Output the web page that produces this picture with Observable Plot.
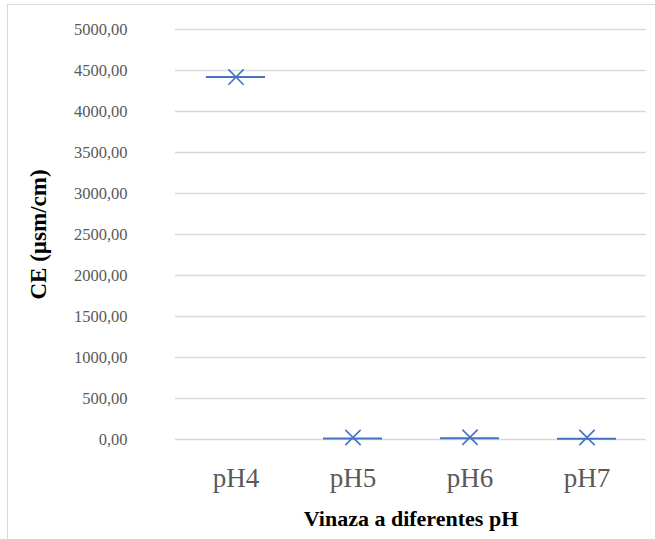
<!DOCTYPE html>
<html>
<head>
<meta charset="utf-8">
<script src="https://cdn.jsdelivr.net/npm/d3@7"></script>
<script src="https://cdn.jsdelivr.net/npm/@observablehq/plot@0.6"></script>
<style>
  html, body { margin: 0; padding: 0; background: #fff; }
  #wrap { position: relative; width: 655px; height: 539px; overflow: hidden; }
  #frame { position: absolute; left: 7px; top: 4px; width: 660px; height: 560px;
           border-top: 1.5px solid #d9d9d9; border-left: 1.5px solid #d9d9d9; pointer-events: none; }
  #chart { position: absolute; left: 0; top: 0; }
</style>
</head>
<body>
<div id="wrap"><div id="chart"></div><div id="frame"></div></div>
<script>
const categories = ["pH4", "pH5", "pH6", "pH7"];
const medians = [4420, 12, 15, 10];
const means = [4420, 25, 28, 24];
const yTicks = [0, 500, 1000, 1500, 2000, 2500, 3000, 3500, 4000, 4500, 5000];

const data = categories.map((c, i) => ({cat: c, median: medians[i], mean: means[i]}));
const fmt = v => v.toFixed(2).replace(".", ",");

const chart = Plot.plot({
  width: 655,
  height: 539,
  marginLeft: 175,
  marginRight: 9,
  marginTop: 29,
  marginBottom: 100,
  style: {fontFamily: "'Liberation Serif', 'Times New Roman', serif", background: "transparent", overflow: "visible"},
  x: {domain: categories, padding: 0, label: null},
  y: {domain: [0, 5000], label: null},
  marks: [
    Plot.gridY(yTicks, {stroke: "#d9d9d9", strokeOpacity: 1, strokeWidth: 1.3}),
    Plot.ruleX([0], {frameAnchor: "left", stroke: "#d9d9d9", strokeWidth: 1.3}),
    Plot.axisY(yTicks, {tickSize: 0, tickPadding: 48, tickFormat: fmt, fontSize: 16.5, fill: "#595959", label: null}),
    Plot.axisX({tickSize: 0, tickPadding: 28, fontSize: 27, fill: "#595959", label: null}),
    Plot.tickY(data, {x: "cat", y: "median", stroke: "#4472c4", strokeWidth: 2, insetLeft: 29, insetRight: 29}),
    Plot.dot(data, {x: "cat", y: "mean", symbol: "times", r: 7, stroke: "#4472c4", strokeWidth: 1.6}),
    Plot.text(["Vinaza a diferentes pH"], {frameAnchor: "bottom", dy: 86, fontSize: 22, fontWeight: "bold", fill: "#000"}),
    Plot.text(["CE (µsm/cm)"], {frameAnchor: "left", dx: -137, rotate: -90, textAnchor: "middle", fontSize: 23, fontWeight: "bold", fill: "#000"})
  ]
});
document.getElementById("chart").append(chart);
</script>
</body>
</html>
